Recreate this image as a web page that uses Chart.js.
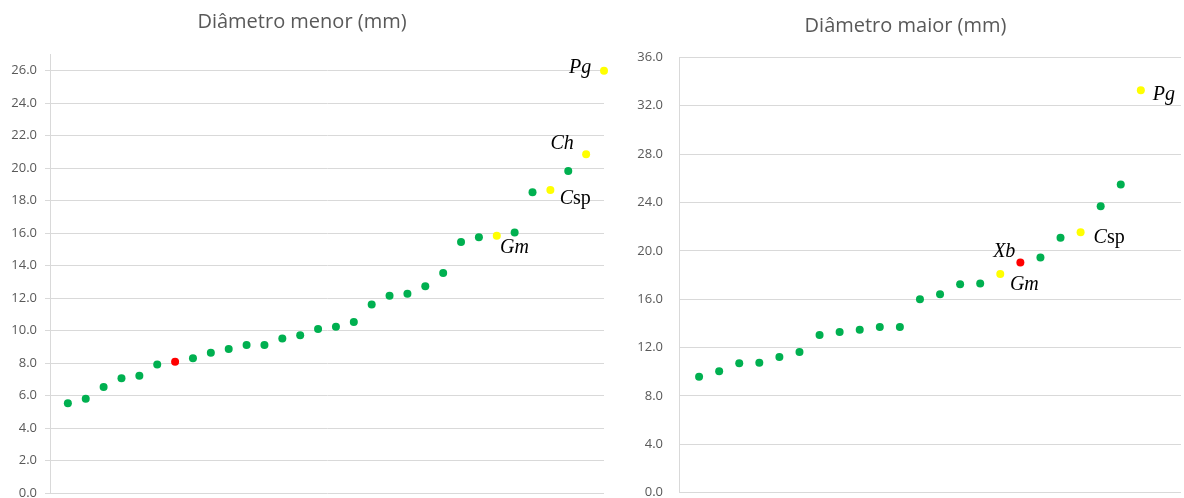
<!DOCTYPE html>
<html>
<head>
<meta charset="utf-8">
<script src="https://cdn.jsdelivr.net/npm/chart.js@4/dist/chart.umd.min.js"></script>
<style>
  html, body { margin: 0; padding: 0; background: #ffffff; overflow: hidden; width: 1184px; height: 498px; }
  .painel { position: absolute; top: 0; }
  #painelMenor { left: 0; }
  #painelMaior { left: 630px; }
</style>
</head>
<body>
<div class="painel" id="painelMenor"><canvas id="graficoMenor" width="622" height="520"></canvas></div>
<div class="painel" id="painelMaior"><canvas id="graficoMaior" width="558" height="520"></canvas></div>
<script>
// Diâmetro menor (mm): valores ordenados, grupo de cada amostra e rótulos das espécies
const valoresMenor = [5.54, 5.82, 6.54, 7.08, 7.24, 7.92, 8.10, 8.31, 8.65, 8.88, 9.13, 9.13, 9.52, 9.72, 10.11,
                      10.25, 10.54, 11.61, 12.16, 12.28, 12.74, 13.56, 15.46, 15.75, 15.85, 16.04, 18.52, 18.66,
                      19.83, 20.86, 26.0];
const gruposMenor = ['v', 'v', 'v', 'v', 'v', 'v', 'r', 'v', 'v', 'v', 'v', 'v', 'v', 'v', 'v',
                     'v', 'v', 'v', 'v', 'v', 'v', 'v', 'v', 'v', 'a', 'v', 'v', 'a',
                     'v', 'a', 'a'];
const rotulosMenor = { 24: 'Gm', 27: 'Csp', 29: 'Ch', 30: 'Pg' };
const ticksMenor = { min: 0, max: 27, passo: 2 };

// Diâmetro maior (mm)
const valoresMaior = [9.59, 10.04, 10.70, 10.75, 11.22, 11.64, 13.04, 13.29, 13.48, 13.71, 13.71, 16.0,
                      16.41, 17.24, 17.29, 18.09, 19.03, 19.44, 21.09, 21.54, 23.69, 25.48, 33.28];
const gruposMaior = ['v', 'v', 'v', 'v', 'v', 'v', 'v', 'v', 'v', 'v', 'v', 'v',
                     'v', 'v', 'v', 'a', 'r', 'v', 'v', 'a', 'v', 'v', 'a'];
const rotulosMaior = { 15: 'Gm', 16: 'Xb', 19: 'Csp', 22: 'Pg' };
const ticksMaior = { min: 0, max: 36, passo: 4 };

const coresGrupo = { v: '#00b050', r: '#ff0000', a: '#ffff00' };
const corTexto = '#595959';
const corGrade = '#d9d9d9';

// Gênero em itálico; o epíteto "sp" fica em tipo romano
function partesRotulo(texto) {
  if (texto.endsWith('sp')) return [[texto.slice(0, -2), true], ['sp', false]];
  return [[texto, true]];
}

const pluginRotulos = {
  id: 'rotulos',
  afterDatasetsDraw(chart, args, opts) {
    const meta = chart.getDatasetMeta(0);
    const ctx = chart.ctx;
    ctx.save();
    ctx.fillStyle = '#000000';
    ctx.textBaseline = 'alphabetic';
    Object.entries(opts.rotulos).forEach(([indice, texto]) => {
      const ponto = meta.data[Number(indice)];
      const pos = opts.posicoes[texto];
      const partes = partesRotulo(texto);
      const fonte = (italico) => (italico ? 'italic ' : '') + '20px "Liberation Serif", "Times New Roman", serif';
      let largura = 0;
      partes.forEach(([t, it]) => { ctx.font = fonte(it); largura += ctx.measureText(t).width; });
      let x = ponto.x + pos.dx - (pos.alinhar === 'right' ? largura : 0);
      const y = ponto.y + pos.dy;
      ctx.textAlign = 'left';
      partes.forEach(([t, it]) => {
        ctx.font = fonte(it);
        ctx.fillText(t, x, y);
        x += ctx.measureText(t).width;
      });
    });
    ctx.restore();
  }
};

function criarGrafico(idCanvas, titulo, valores, grupos, rotulos, escala, layout) {
  const pontos = valores.map((v, i) => ({ x: i + 1, y: v }));
  const cores = grupos.map(g => coresGrupo[g]);
  return new Chart(document.getElementById(idCanvas), {
    type: 'scatter',
    data: {
      datasets: [{
        data: pontos,
        pointRadius: 4,
        pointBorderWidth: 0,
        pointBackgroundColor: cores,
        pointBorderColor: cores,
        clip: false
      }]
    },
    plugins: [pluginRotulos],
    options: {
      responsive: false,
      animation: false,
      events: [],
      layout: { padding: layout.padding },
      scales: {
        x: { type: 'linear', display: false, min: 0, max: valores.length + layout.folgaX },
        y: {
          min: escala.min,
          max: escala.max,
          afterFit(s) { s.width = layout.larguraEixo; },
          border: { color: corGrade, width: 1 },
          grid: { color: corGrade, lineWidth: 1, drawTicks: layout.marcas, tickLength: 5 },
          ticks: {
            stepSize: escala.passo,
            includeBounds: false,
            padding: layout.recuoTicks,
            color: corTexto,
            font: { family: '"Open Sans", sans-serif', size: 13 },
            callback: (v) => Number(v).toFixed(1)
          }
        }
      },
      plugins: {
        legend: { display: false },
        tooltip: { enabled: false },
        title: {
          display: true,
          text: titulo,
          color: corTexto,
          font: { family: '"Open Sans", sans-serif', size: 20, weight: 'normal', lineHeight: 1.2 },
          padding: layout.paddingTitulo
        },
        rotulos: { rotulos: rotulos, posicoes: layout.posicoes }
      }
    }
  });
}

criarGrafico('graficoMenor', 'Diâmetro menor (mm)', valoresMenor, gruposMenor, rotulosMenor, ticksMenor, {
  padding: { left: 0, right: 18, top: 0, bottom: 26.7 },
  larguraEixo: 50,
  folgaX: 0,
  marcas: true,
  recuoTicks: 8,
  paddingTitulo: { top: 10, bottom: 20.5 },
  posicoes: {
    Pg: { alinhar: 'right', dx: -12.7, dy: 2.6 },
    Ch: { alinhar: 'right', dx: -12.4, dy: -5.7 },
    Csp: { alinhar: 'left', dx: 9.3, dy: 14.3 },
    Gm: { alinhar: 'left', dx: 3.3, dy: 17.6 }
  }
});

criarGrafico('graficoMaior', 'Diâmetro maior (mm)', valoresMaior, gruposMaior, rotulosMaior, ticksMaior, {
  padding: { left: 0, right: 7, top: 0, bottom: 27.3 },
  larguraEixo: 49,
  folgaX: 2,
  marcas: false,
  recuoTicks: 16,
  paddingTitulo: { top: 14.5, bottom: 18.8 },
  posicoes: {
    Pg: { alinhar: 'left', dx: 12, dy: 10 },
    Csp: { alinhar: 'left', dx: 13, dy: 10.4 },
    Xb: { alinhar: 'right', dx: -5, dy: -6 },
    Gm: { alinhar: 'left', dx: 9.6, dy: 16 }
  }
});
</script>
</body>
</html>
